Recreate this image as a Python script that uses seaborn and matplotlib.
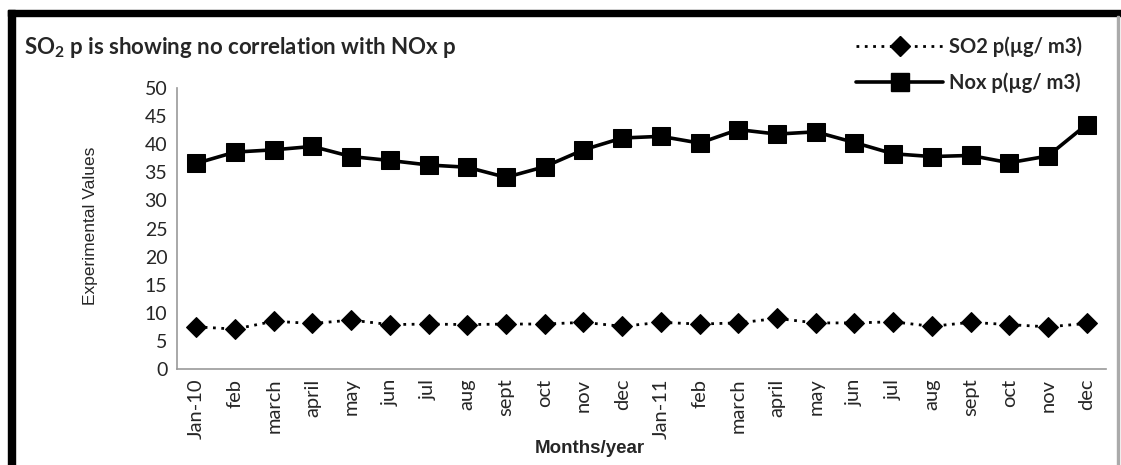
import numpy as np
import pandas as pd
import matplotlib
matplotlib.use("Agg")
import matplotlib.pyplot as plt
import seaborn as sns
from matplotlib.lines import Line2D
from matplotlib.patches import Rectangle

months = ["Jan-10", "feb", "march", "april", "may", "jun", "jul", "aug", "sept", "oct", "nov", "dec",
          "Jan-11", "feb", "march", "april", "may", "jun", "jul", "aug", "sept", "oct", "nov", "dec"]
so2 = [7.5, 7.1, 8.5, 8.1, 8.7, 7.9, 8.0, 7.9, 8.0, 8.0, 8.3, 7.6,
       8.3, 8.0, 8.2, 9.0, 8.2, 8.2, 8.4, 7.6, 8.3, 7.9, 7.5, 8.1]
nox = [36.6, 38.6, 39.0, 39.6, 37.8, 37.1, 36.3, 35.9, 34.1, 36.0, 39.0, 41.1,
       41.4, 40.2, 42.6, 41.8, 42.2, 40.3, 38.3, 37.8, 38.0, 36.7, 37.9, 43.5]
yticks = [0, 5, 10, 15, 20, 25, 30, 35, 40, 45, 50]

sns.set_theme(style="white")
plt.rcParams["font.family"] = ["Lato", "DejaVu Sans"]

pos = np.arange(len(months))
df = pd.DataFrame({"pos": pos, "so2": so2, "nox": nox})

fig = plt.figure(figsize=(11.21, 4.65), dpi=100)
ax = fig.add_axes([177 / 1121, 1 - 369 / 465, (1106 - 177) / 1121, (369 - 88) / 465])

sns.lineplot(data=df, x="pos", y="so2", ax=ax, color="black", linestyle=(0, (1, 2)),
             linewidth=2.0, marker="D", markersize=10, markeredgecolor="black")
sns.lineplot(data=df, x="pos", y="nox", ax=ax, color="black", linestyle="-",
             linewidth=2.6, marker="s", markersize=13.5, markeredgecolor="black")

ax.set_xlim(-0.5, len(months) - 0.5)
ax.set_ylim(0, 50)
ax.set_yticks(yticks)
ax.set_yticklabels([str(t) for t in yticks], fontsize=14)
ax.set_xticks(pos)
ax.set_xticklabels(months, rotation=90, fontsize=14.5)
ax.tick_params(axis="both", length=0, pad=7)
for s in ["top", "right"]:
    ax.spines[s].set_visible(False)
for s in ["left", "bottom"]:
    ax.spines[s].set_color("#999999")
    ax.spines[s].set_linewidth(1.2)
ax.set_xlabel("")
ax.set_ylabel("")

fig.text(91 / 1121, 1 - 226 / 465, "Experimental Values", rotation=90, ha="center", va="center",
         fontsize=12.5, family=["Liberation Sans", "DejaVu Sans"])
fig.text(590 / 1121, 1 - 448 / 465, "Months/year", ha="center", va="center",
         fontsize=13.5, fontweight="bold", family=["Liberation Sans", "DejaVu Sans"])
fig.text(24 / 1121, 1 - 47 / 465, r"SO$_\mathregular{2}$ p is showing no correlation with NOx p",
         ha="left", va="center", fontsize=16, fontweight="bold")

handles = [Line2D([], [], color="black", linestyle=(0, (1, 2)), linewidth=2.0, marker="D", markersize=10),
           Line2D([], [], color="black", linestyle="-", linewidth=2.6, marker="s", markersize=13)]
fig.legend(handles, ["SO2 p(\u00b5g/ m3)", "Nox p(\u00b5g/ m3)"], loc="upper right",
           bbox_to_anchor=(1100 / 1121, 1 - 18 / 465), frameon=False,
           handlelength=4.3, labelspacing=0.8, handletextpad=0.3,
           prop={"weight": "bold", "size": 14.5})

# outer border of the picture
fig.patches.append(Rectangle((8 / 1121, 0), 7 / 1121, 1 - 10 / 465, transform=fig.transFigure,
                             color="black", zorder=5))
fig.patches.append(Rectangle((8 / 1121, 1 - 16 / 465), 1 - 8 / 1121, 6 / 465, transform=fig.transFigure,
                             color="black", zorder=5))
fig.patches.append(Rectangle((1117 / 1121, 0), 2 / 1121, 1 - 16 / 465, transform=fig.transFigure,
                             color="#aaaaaa", zorder=5))

fig.savefig("out.png", dpi=100)
